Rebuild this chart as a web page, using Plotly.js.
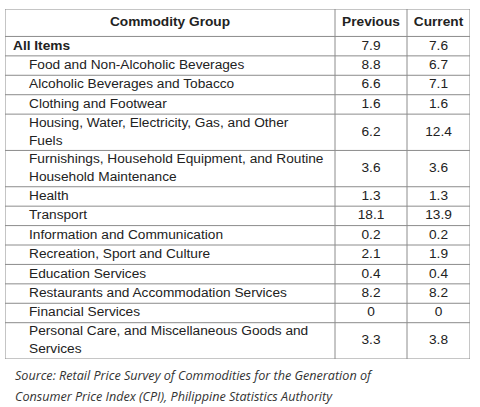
<!DOCTYPE html>
<html>
<head>
<meta charset="utf-8">
<script src="https://cdn.plot.ly/plotly-3.0.1.min.js"></script>
<style>html,body{margin:0;padding:0;background:#fff;}#chart{width:480px;height:407px;}</style>
</head>
<body>
<div id="chart"></div>
<script>
const headers = ["Commodity Group", "Previous", "Current"];
const categories = [
  "All Items",
  "Food and Non-Alcoholic Beverages",
  "Alcoholic Beverages and Tobacco",
  "Clothing and Footwear",
  "Housing, Water, Electricity, Gas, and Other<br>Fuels",
  "Furnishings, Household Equipment, and Routine<br>Household Maintenance",
  "Health",
  "Transport",
  "Information and Communication",
  "Recreation, Sport and Culture",
  "Education Services",
  "Restaurants and Accommodation Services",
  "Financial Services",
  "Personal Care, and Miscellaneous Goods and<br>Services"
];
const previous = ["7.9", "8.8", "6.6", "1.6", "6.2", "3.6", "1.3", "18.1", "0.2", "2.1", "0.4", "8.2", "0", "3.3"];
const current  = ["7.6", "6.7", "7.1", "1.6", "12.4", "3.6", "1.3", "13.9", "0.2", "1.9", "0.4", "8.2", "0", "3.8"];
const sourceLines = [
  "Source: Retail Price Survey of Commodities for the Generation of",
  "Consumer Price Index (CPI), Philippine Statistics Authority"
];

// ---- layout geometry (table drawn on hidden linear axes) ----
const colEdges = [0, 330, 402, 465];
const headerH = 26, singleH = 18.4, extraLineH = 16;
const lineCount = s => s.split("<br>").length;
const rowH = categories.map(c => singleH + (lineCount(c) - 1) * extraLineH);
const rowEdges = [0, headerH];
rowH.forEach(h => rowEdges.push(rowEdges[rowEdges.length - 1] + h));
const totalH = rowEdges[rowEdges.length - 1];
const rowMid = rowH.map((h, i) => (rowEdges[i + 1] + rowEdges[i + 2]) / 2);
const colMid = [0, 1, 2].map(i => (colEdges[i] + colEdges[i + 1]) / 2);

const font = {family: "Liberation Sans, Arial, sans-serif", size: 13.7, color: "#222"};
const indent = 24, firstIndent = 8;

const traces = [
  {
    type: "scatter", mode: "text", hoverinfo: "skip", cliponaxis: false,
    x: colMid, y: [headerH / 2, headerH / 2, headerH / 2],
    text: headers.map(h => "<b>" + h + "</b>"),
    textposition: "middle center", textfont: font
  },
  {
    type: "scatter", mode: "text", hoverinfo: "skip", cliponaxis: false,
    x: categories.map((c, i) => i === 0 ? firstIndent : indent),
    y: rowMid,
    text: categories.map((c, i) => i === 0 ? "<b>" + c + "</b>" : c),
    textposition: "middle right", textfont: font
  },
  {
    type: "scatter", mode: "text", hoverinfo: "skip", cliponaxis: false,
    x: previous.map(() => colMid[1]), y: rowMid, text: previous,
    textposition: "middle center", textfont: font
  },
  {
    type: "scatter", mode: "text", hoverinfo: "skip", cliponaxis: false,
    x: current.map(() => colMid[2]), y: rowMid, text: current,
    textposition: "middle center", textfont: font
  }
];

const lineStyle = {color: "#8c8c8c", width: 1};
const shapes = [];
rowEdges.forEach(y => shapes.push({type: "line", xref: "x", yref: "y", x0: colEdges[0], x1: colEdges[3], y0: y, y1: y, line: lineStyle}));
colEdges.forEach(x => shapes.push({type: "line", xref: "x", yref: "y", x0: x, x1: x, y0: 0, y1: totalH, line: lineStyle}));

const plotH = 407 - 9 - 48;
const layout = {
  width: 480, height: 407,
  margin: {l: 5, r: 10, t: 9, b: 48},
  paper_bgcolor: "#ffffff", plot_bgcolor: "#ffffff",
  showlegend: false,
  xaxis: {range: [colEdges[0], colEdges[3]], visible: false, fixedrange: true},
  yaxis: {range: [totalH, 0], visible: false, fixedrange: true},
  shapes: shapes,
  annotations: sourceLines.map((t, i) => ({
    text: "<i>" + t + "</i>",
    xref: "paper", yref: "paper",
    x: 8 / 465, y: -(16.5 + 21 * i) / plotH,
    xanchor: "left", yanchor: "middle",
    align: "left", showarrow: false,
    font: {family: "Open Sans, sans-serif", size: 12.6, color: "#333"}
  }))
};

Plotly.newPlot("chart", traces, layout, {displayModeBar: false, staticPlot: true});
</script>
</body>
</html>
